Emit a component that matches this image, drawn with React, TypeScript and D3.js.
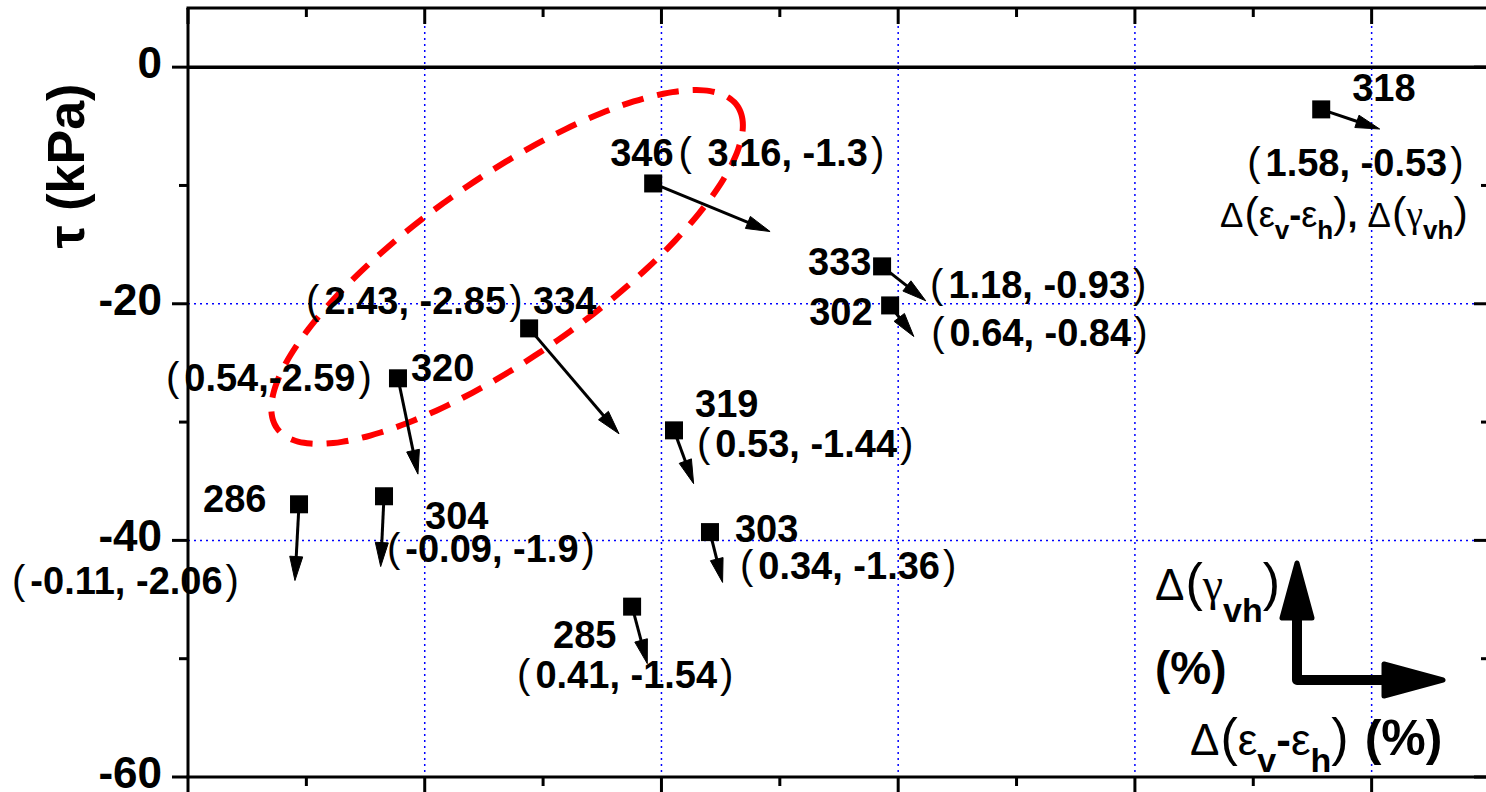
import React from "react";
import * as d3 from "d3";

const W = 1486;
const H = 792;

// ---- data ----
const sampleIds = ["346", "318", "333", "302", "334", "320", "319", "303", "285", "286", "304"];
const xValues = [1.965, 4.787, 2.932, 2.966, 1.441, 0.887, 2.053, 2.205, 1.876, 0.469, 0.828];
const tauValues = [-9.83, -3.57, -16.84, -20.14, -22.08, -26.3, -30.7, -39.3, -45.6, -36.95, -36.27];
const dEpsValues = [3.16, 1.58, 1.18, 0.64, 2.43, 0.54, 0.53, 0.34, 0.41, -0.11, -0.09];
const dGammaValues = [-1.3, -0.53, -0.93, -0.84, -2.85, -2.59, -1.44, -1.36, -1.54, -2.06, -1.9];
const yTicks = [0, -20, -40, -60];
const yMinorTicks = [-10, -30, -50];
const xTicks = [0, 1, 2, 3, 4, 5];
const xMinorTicks = [0.5, 1.5, 2.5, 3.5, 4.5, 5.5];
const gridX = [1, 2, 3, 4, 5];
const gridY = [-20, -40];

// ---- label layout (pixel offsets from the marker) ----
type Lay = { mode: "sep" | "idVal" | "valId"; id?: [number, number]; val: [number, number]; lead?: string; sep?: string };
const labelLayout: Lay[] = [
  { mode: "idVal", val: [-43, -17], lead: " " },
  { mode: "sep", id: [31, -8], val: [-74, 67] },
  { mode: "sep", id: [-74, 9], val: [48, 32] },
  { mode: "sep", id: [-81, 20], val: [41, 41] },
  { mode: "valId", val: [-223, -14] },
  { mode: "sep", id: [13, 3], val: [-232, 13], sep: "," },
  { mode: "sep", id: [21, -13], val: [23, 27] },
  { mode: "sep", id: [25, 10], val: [30, 47] },
  { mode: "sep", id: [-79, 41], val: [-115, 81] },
  { mode: "sep", id: [-96, 8], val: [-287, 90] },
  { mode: "sep", id: [41, 33], val: [3, 66] },
];

const FONT = "'Liberation Sans', Arial, Helvetica, sans-serif";
const GREEK_G = "'Liberation Serif', 'Times New Roman', serif";
const LFS = 38;

function fmt(v: number) {
  return String(v);
}

function Arrow({ x0, y0, x1, y1 }: { x0: number; y0: number; x1: number; y1: number }) {
  const dx = x1 - x0;
  const dy = y1 - y0;
  const len = Math.sqrt(dx * dx + dy * dy) || 1;
  const ux = dx / len;
  const uy = dy / len;
  const L = 24;
  const w = 6.5;
  const bx = x1 - ux * L;
  const by = y1 - uy * L;
  const pts = [
    [x1, y1],
    [bx - uy * w, by + ux * w],
    [bx + uy * w, by - ux * w],
  ];
  return (
    <g>
      <line x1={x0} y1={y0} x2={bx + ux * 2} y2={by + uy * 2} stroke="#000" strokeWidth={3} />
      <polygon points={pts.map((p) => p.join(",")).join(" ")} fill="#000" stroke="#000" strokeWidth={1} strokeLinejoin="round" />
    </g>
  );
}

function ValueTspans({ e, g, sep = ", ", lead = "" }: { e: number; g: number; sep?: string; lead?: string }) {
  return (
    <>
      <tspan fontWeight="normal" fontSize={40}>(</tspan>
      <tspan dx={5}>{lead + fmt(e) + sep + fmt(g)}</tspan>
      <tspan dx={3} fontWeight="normal" fontSize={40}>)</tspan>
    </>
  );
}

export default function App() {
  const x = d3.scaleLinear().domain([0, 5.5]).range([188, 1490]);
  const y = d3.scaleLinear().domain([-60, 5]).range([777, 8]);
  const vec = d3.scaleLinear().domain([0, 1]).range([0, 37]);

  const x0 = x(0);
  const xr = x(5.5);
  const yTop = y(5);
  const yBot = y(-60);

  // ellipse annotation (dashed red)
  const ec = { cx: 1.348, cy: -16.89 };
  const ecx = x(ec.cx);
  const ecy = y(ec.cy);
  const rx = 281;
  const ry = 89;
  const rot = (-35 * Math.PI) / 180;
  const ellPts: [number, number][] = d3.range(0, 360, 3).map((a) => {
    const t = (a * Math.PI) / 180;
    const px = rx * Math.cos(t);
    const py = ry * Math.sin(t);
    return [ecx + px * Math.cos(rot) - py * Math.sin(rot), ecy + px * Math.sin(rot) + py * Math.cos(rot)];
  });
  const ellPath = d3.line().curve(d3.curveCardinalClosed)(ellPts) || "";

  return (
    <svg width={W} height={H} style={{ position: "absolute", left: 0, top: 0, background: "#fff" }} fontFamily={FONT}>
      <rect x={0} y={0} width={W} height={H} fill="#fff" />
      {/* grid */}
      {gridX.map((v) => (
        <line key={"gx" + v} x1={x(v)} x2={x(v)} y1={yTop} y2={yBot} stroke="#0000ff" strokeWidth={1.5} strokeDasharray="2 4" />
      ))}
      {gridY.map((v) => (
        <line key={"gy" + v} x1={x0} x2={xr} y1={y(v)} y2={y(v)} stroke="#0000ff" strokeWidth={1.5} strokeDasharray="2 4" />
      ))}
      {/* zero line */}
      <line x1={x0} x2={xr} y1={y(0)} y2={y(0)} stroke="#000" strokeWidth={3.5} />

      {/* axes frame */}
      <line x1={x0} x2={x0} y1={yTop} y2={yBot} stroke="#000" strokeWidth={3} />
      <line x1={x0 - 1.5} x2={xr} y1={yTop} y2={yTop} stroke="#000" strokeWidth={3} />
      <line x1={x0 - 1.5} x2={xr} y1={yBot} y2={yBot} stroke="#000" strokeWidth={3} />
      <line x1={xr} x2={xr} y1={yTop} y2={yBot} stroke="#000" strokeWidth={3} />

      {/* y ticks */}
      {yTicks.map((v) => (
        <g key={"yt" + v}>
          <line x1={x0 - 16} x2={x0} y1={y(v)} y2={y(v)} stroke="#000" strokeWidth={3} />
          <line x1={xr - 16} x2={xr} y1={y(v)} y2={y(v)} stroke="#000" strokeWidth={3} />
          <text x={162} y={y(v) + 11} textAnchor="end" fontSize={44} fontWeight="bold">
            {v}
          </text>
        </g>
      ))}
      {yMinorTicks.map((v) => (
        <g key={"ym" + v}>
          <line x1={x0 - 9} x2={x0} y1={y(v)} y2={y(v)} stroke="#000" strokeWidth={3} />
          <line x1={xr - 9} x2={xr} y1={y(v)} y2={y(v)} stroke="#000" strokeWidth={3} />
        </g>
      ))}
      {/* x ticks */}
      {xTicks.map((v) => (
        <g key={"xt" + v}>
          <line x1={x(v)} x2={x(v)} y1={yBot} y2={yBot + 16} stroke="#000" strokeWidth={3} />
          <line x1={x(v)} x2={x(v)} y1={yTop} y2={yTop + 16} stroke="#000" strokeWidth={3} />
        </g>
      ))}
      {xMinorTicks.map((v) => (
        <g key={"xm" + v}>
          <line x1={x(v)} x2={x(v)} y1={yBot} y2={yBot + 9} stroke="#000" strokeWidth={3} />
          <line x1={x(v)} x2={x(v)} y1={yTop} y2={yTop + 9} stroke="#000" strokeWidth={3} />
        </g>
      ))}

      {/* y axis title */}
      <text transform={`translate(84,166) rotate(-90)`} textAnchor="middle" fontSize={52} fontWeight="bold">
        τ (kPa)
      </text>

      {/* ellipse */}
      <path d={ellPath} fill="none" stroke="#ff0000" strokeWidth={6} strokeDasharray="22 14" />

      {/* arrows and markers */}
      {sampleIds.map((id, i) => {
        const px = x(xValues[i]);
        const py = y(tauValues[i]);
        const tx = px + vec(dEpsValues[i]);
        const ty = py - vec(dGammaValues[i]);
        return (
          <g key={"p" + id}>
            <Arrow x0={px} y0={py} x1={tx} y1={ty} />
            <rect x={px - 9} y={py - 9} width={18} height={18} fill="#000" />
          </g>
        );
      })}

      {/* labels */}
      {sampleIds.map((id, i) => {
        const px = x(xValues[i]);
        const py = y(tauValues[i]);
        const L = labelLayout[i];
        const e = dEpsValues[i];
        const g = dGammaValues[i];
        if (L.mode === "idVal") {
          return (
            <text key={"l" + id} x={px + L.val[0]} y={py + L.val[1]} fontSize={LFS} fontWeight="bold">
              <tspan>{id}</tspan>
              <tspan dx={5} fontWeight="normal" fontSize={40}>(</tspan>
              <tspan dx={5}>{(L.lead || "") + fmt(e) + ", " + fmt(g)}</tspan>
              <tspan dx={3} fontWeight="normal" fontSize={40}>)</tspan>
            </text>
          );
        }
        if (L.mode === "valId") {
          return (
            <text key={"l" + id} x={px + L.val[0]} y={py + L.val[1]} fontSize={LFS} fontWeight="bold">
              <ValueTspans e={e} g={g} />
              <tspan>{" " + id}</tspan>
            </text>
          );
        }
        return (
          <g key={"l" + id}>
            <text x={px + (L.id as any)[0]} y={py + (L.id as any)[1]} fontSize={LFS} fontWeight="bold">
              {id}
            </text>
            <text x={px + L.val[0]} y={py + L.val[1]} fontSize={LFS} fontWeight="bold">
              <ValueTspans e={e} g={g} sep={L.sep} />
            </text>
          </g>
        );
      })}

      {/* legend-like annotation under 318 */}
      <text x={1220} y={227} fontSize={35}>
        <tspan>Δ</tspan>
        <tspan fontSize={43} dx={1}>(</tspan>
        <tspan fontSize={36}>ε</tspan>
        <tspan fontSize={26} fontWeight="bold" dy={12}>v</tspan>
        <tspan fontSize={36} fontWeight="bold" dy={-12}>-</tspan>
        <tspan fontSize={36}>ε</tspan>
        <tspan fontSize={26} fontWeight="bold" dy={12}>h</tspan>
        <tspan fontSize={43} dy={-12}>)</tspan>
        <tspan fontSize={36} fontWeight="bold">, </tspan>
        <tspan>Δ</tspan>
        <tspan fontSize={43} dx={1}>(</tspan>
        <tspan fontSize={38} fontFamily={GREEK_G}>γ</tspan>
        <tspan fontSize={26} fontWeight="bold" dy={12}>vh</tspan>
        <tspan fontSize={43} dy={-12}>)</tspan>
      </text>

      {/* direction key, bottom right */}
      <g stroke="#000" fill="#000" strokeLinejoin="round" strokeLinecap="round">
        <polyline points="1297,616 1297,680 1385,680" fill="none" strokeWidth={10} />
        <polygon points="1297,563 1282,618 1312,618" strokeWidth={5} />
        <polygon points="1443,680 1384,664 1384,696" strokeWidth={5} />
      </g>
      <text x={1155} y={600} fontSize={44}>
        <tspan>Δ</tspan>
        <tspan fontSize={52} dx={1}>(</tspan>
        <tspan fontFamily={GREEK_G} fontSize={46}>γ</tspan>
        <tspan fontSize={34} fontWeight="bold" dy={22}>vh</tspan>
        <tspan fontSize={52} dy={-22}>)</tspan>
      </text>
      <text x={1155} y={684} fontSize={46} fontWeight="bold">
        (%)
      </text>
      <text x={1190} y={755} fontSize={44}>
        <tspan>Δ</tspan>
        <tspan fontSize={52} dx={1}>(</tspan>
        <tspan>ε</tspan>
        <tspan fontSize={34} fontWeight="bold" dy={17}>v</tspan>
        <tspan fontSize={44} fontWeight="bold" dy={-17}>-</tspan>
        <tspan>ε</tspan>
        <tspan fontSize={34} fontWeight="bold" dy={17}>h</tspan>
        <tspan fontSize={52} dy={-17}>)</tspan>
        <tspan fontSize={50} fontWeight="bold" dx={16}>(%)</tspan>
      </text>
    </svg>
  );
}
